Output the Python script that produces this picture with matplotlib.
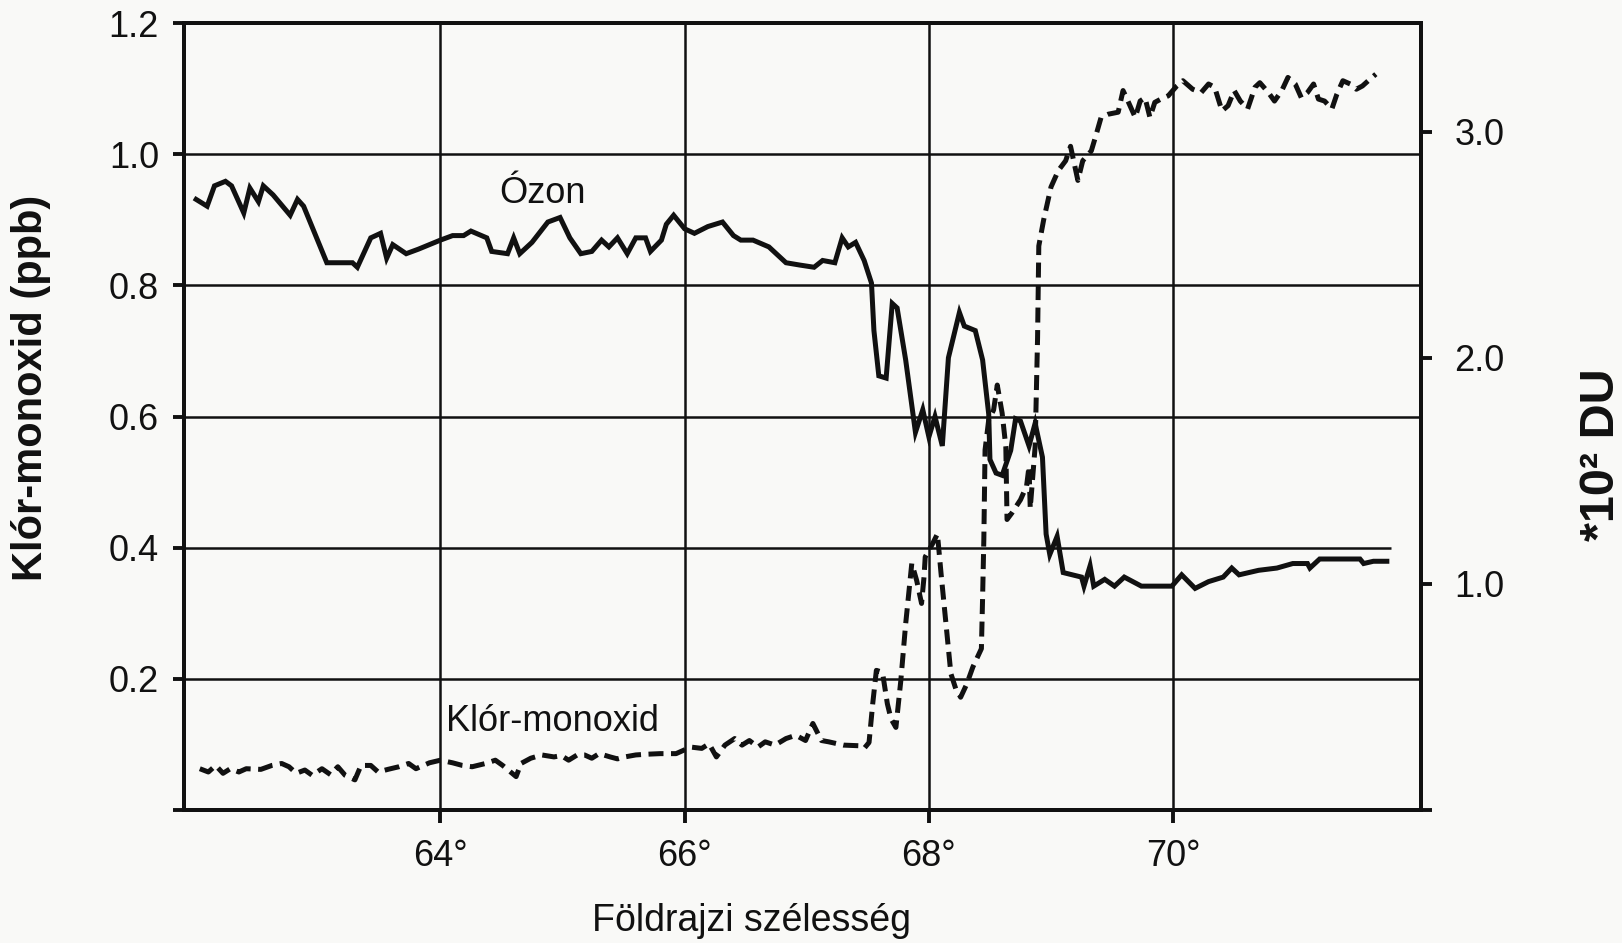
import matplotlib
matplotlib.use("Agg")
import matplotlib.pyplot as plt

# Latitude (degrees) and chlorine monoxide mixing ratio (ppb)
clo_lat = [62.03, 62.10, 62.16, 62.22, 62.28, 62.35, 62.41, 62.53, 62.62, 62.70,
           62.76, 62.82, 62.89, 62.95, 63.03, 63.10, 63.16, 63.22, 63.30, 63.35,
           63.43, 63.49, 63.57, 63.66, 63.74, 63.80, 63.91, 64.00, 64.10, 64.18,
           64.26, 64.37, 64.45, 64.51, 64.62, 64.66, 64.74, 64.83, 64.93, 64.99,
           65.05, 65.12, 65.18, 65.24, 65.30, 65.39, 65.45, 65.51, 65.60, 65.68,
           65.80, 65.93, 66.05, 66.14, 66.20, 66.26, 66.33, 66.41, 66.47, 66.53,
           66.60, 66.66, 66.74, 66.83, 66.91, 66.99, 67.05, 67.12, 67.18, 67.30,
           67.43, 67.47, 67.51, 67.54, 67.57, 67.62, 67.66, 67.69, 67.73, 67.77,
           67.81, 67.86, 67.90, 67.94, 67.96, 67.97, 68.03, 68.07, 68.10, 68.14,
           68.18, 68.22, 68.26, 68.31, 68.36, 68.43, 68.44, 68.45, 68.46, 68.49,
           68.53, 68.56, 68.60, 68.63, 68.64, 68.68, 68.75, 68.80, 68.82, 68.83,
           68.87, 68.89, 68.90, 68.94, 69.00, 69.06, 69.12, 69.16, 69.22, 69.26,
           69.33, 69.37, 69.41, 69.47, 69.55, 69.59, 69.63, 69.69, 69.73, 69.77,
           69.81, 69.85, 69.90, 69.96, 70.03, 70.08, 70.16, 70.23, 70.29, 70.34,
           70.40, 70.45, 70.50, 70.55, 70.61, 70.67, 70.71, 70.78, 70.83, 70.89,
           70.94, 71.00, 71.05, 71.10, 71.15, 71.19, 71.24, 71.30, 71.34, 71.39,
           71.45, 71.50, 71.55, 71.61, 71.66]
clo_ppb = [0.063, 0.058, 0.068, 0.056, 0.063, 0.058, 0.063, 0.062, 0.068, 0.071,
           0.066, 0.056, 0.061, 0.053, 0.063, 0.054, 0.066, 0.053, 0.046, 0.068,
           0.068, 0.058, 0.062, 0.066, 0.071, 0.063, 0.072, 0.076, 0.072, 0.068,
           0.066, 0.071, 0.076, 0.068, 0.051, 0.071, 0.079, 0.084, 0.081, 0.083,
           0.076, 0.084, 0.084, 0.079, 0.086, 0.081, 0.078, 0.081, 0.084, 0.085,
           0.086, 0.086, 0.096, 0.094, 0.101, 0.081, 0.099, 0.109, 0.099, 0.106,
           0.096, 0.104, 0.099, 0.109, 0.114, 0.106, 0.132, 0.106, 0.104, 0.099,
           0.098, 0.094, 0.103, 0.162, 0.213, 0.210, 0.162, 0.139, 0.126, 0.197,
           0.284, 0.376, 0.350, 0.315, 0.355, 0.386, 0.406, 0.421, 0.360, 0.284,
           0.208, 0.185, 0.172, 0.192, 0.218, 0.246, 0.325, 0.413, 0.549, 0.595,
           0.610, 0.648, 0.605, 0.554, 0.443, 0.453, 0.473, 0.494, 0.524, 0.460,
           0.554, 0.720, 0.860, 0.900, 0.950, 0.975, 0.990, 1.012, 0.960, 0.990,
           1.005, 1.030, 1.056, 1.061, 1.064, 1.097, 1.081, 1.056, 1.081, 1.086,
           1.056, 1.079, 1.084, 1.089, 1.104, 1.112, 1.099, 1.094, 1.107, 1.102,
           1.066, 1.074, 1.097, 1.081, 1.069, 1.102, 1.109, 1.094, 1.081, 1.097,
           1.117, 1.107, 1.086, 1.094, 1.107, 1.084, 1.081, 1.069, 1.091, 1.112,
           1.107, 1.099, 1.104, 1.114, 1.122]

# Latitude (degrees) and ozone column (x 10^2 DU)
o3_lat = [62.00, 62.09, 62.15, 62.24, 62.29, 62.39, 62.44, 62.51, 62.55, 62.63,
          62.77, 62.83, 62.88, 63.07, 63.28, 63.32, 63.43, 63.51, 63.56, 63.61,
          63.72, 63.82, 64.00, 64.10, 64.19, 64.25, 64.38, 64.42, 64.55, 64.60,
          64.65, 64.75, 64.88, 64.98, 65.06, 65.15, 65.24, 65.32, 65.38, 65.45,
          65.53, 65.60, 65.68, 65.72, 65.81, 65.85, 65.91, 66.00, 66.08, 66.19,
          66.31, 66.40, 66.46, 66.56, 66.69, 66.83, 66.94, 67.06, 67.13, 67.23,
          67.29, 67.34, 67.40, 67.47, 67.53, 67.55, 67.59, 67.65, 67.70, 67.74,
          67.81, 67.89, 67.95, 68.00, 68.05, 68.11, 68.16, 68.25, 68.29, 68.38,
          68.44, 68.49, 68.50, 68.55, 68.60, 68.67, 68.71, 68.75, 68.82, 68.87,
          68.93, 68.96, 68.99, 69.05, 69.10, 69.25, 69.27, 69.32, 69.35, 69.44,
          69.52, 69.60, 69.74, 69.99, 70.07, 70.18, 70.29, 70.41, 70.48, 70.54,
          70.70, 70.85, 70.98, 71.10, 71.12, 71.20, 71.53, 71.56, 71.64, 71.75]
o3_du = [2.70, 2.67, 2.76, 2.78, 2.76, 2.64, 2.75, 2.69, 2.76, 2.72,
         2.63, 2.70, 2.67, 2.42, 2.42, 2.40, 2.53, 2.55, 2.44, 2.50,
         2.46, 2.48, 2.52, 2.54, 2.54, 2.56, 2.53, 2.47, 2.46, 2.53,
         2.46, 2.51, 2.60, 2.62, 2.53, 2.46, 2.47, 2.52, 2.49, 2.53,
         2.46, 2.53, 2.53, 2.47, 2.52, 2.59, 2.63, 2.57, 2.55, 2.58,
         2.60, 2.54, 2.52, 2.52, 2.49, 2.42, 2.41, 2.40, 2.43, 2.42,
         2.53, 2.49, 2.51, 2.43, 2.33, 2.12, 1.92, 1.91, 2.24, 2.22,
         1.99, 1.67, 1.77, 1.65, 1.74, 1.61, 2.00, 2.20, 2.14, 2.12,
         1.99, 1.75, 1.55, 1.49, 1.48, 1.59, 1.73, 1.72, 1.61, 1.71,
         1.56, 1.22, 1.13, 1.21, 1.05, 1.03, 0.99, 1.08, 0.99, 1.02,
         0.99, 1.03, 0.99, 0.99, 1.04, 0.98, 1.01, 1.03, 1.07, 1.04,
         1.06, 1.07, 1.09, 1.09, 1.07, 1.11, 1.11, 1.09, 1.10, 1.10]

left_ticks = [0.0, 0.2, 0.4, 0.6, 0.8, 1.0, 1.2]
left_labels = ["", "0.2", "0.4", "0.6", "0.8", "1.0", "1.2"]
right_ticks = [0.0, 1.0, 2.0, 3.0]
right_labels = ["", "1.0", "2.0", "3.0"]
lat_ticks = [64, 66, 68, 70]
lat_labels = ["64°", "66°", "68°", "70°"]
hgrid_levels = [0.2, 0.4, 0.6, 0.8, 1.0]
hgrid_ends = [72.03, 71.78, 72.03, 72.03, 72.03]

plt.rcParams["font.family"] = ["Liberation Sans", "DejaVu Sans"]
paper = "#f9f9f7"
ink = "#111111"

fig = plt.figure(figsize=(16.22, 9.43), dpi=100, facecolor=paper)
ax = fig.add_axes([0.1134, 0.141, 0.7627, 0.8346], facecolor=paper)
ax2 = ax.twinx()

xmin, xmax = 61.9, 72.03
ax.set_xlim(xmin, xmax)
ax.set_ylim(0, 1.2)
ax2.set_ylim(0, 3.48)

# grid
for lvl, end in zip(hgrid_levels, hgrid_ends):
    ax.hlines(lvl, xmin, end, color=ink, lw=1.8, zorder=1)
for lat in lat_ticks:
    ax.axvline(lat, color=ink, lw=1.8, zorder=1)

# series
ax.plot(clo_lat, clo_ppb, color=ink, lw=3.6, linestyle=(0, (3.0, 1.5)),
        solid_joinstyle="miter", zorder=3)
ax2.plot(o3_lat, o3_du, color=ink, lw=3.6, solid_joinstyle="miter", zorder=3)

ax.text(64.84, 0.94, "Ózon", fontsize=26, color=ink, ha="center", va="center")
ax.text(64.92, 0.135, "Klór-monoxid", fontsize=26, color=ink, ha="center", va="center")

# axes styling
for a in (ax, ax2):
    for s in a.spines.values():
        s.set_linewidth(2.8)
        s.set_color(ink)

ax.set_yticks(left_ticks)
ax.set_yticklabels(left_labels)
ax.set_xticks(lat_ticks)
ax.set_xticklabels(lat_labels)
ax2.set_yticks(right_ticks)
ax2.set_yticklabels(right_labels)

ax.tick_params(axis="y", direction="out", length=8, width=2.8, pad=10,
               labelsize=26, colors=ink)
ax.tick_params(axis="x", direction="out", length=9, width=2.8, pad=12,
               labelsize=26, colors=ink)
ax2.tick_params(axis="y", direction="out", length=8, width=2.8, pad=16,
                labelsize=26, colors=ink)

fig.text(31 / 1622, 1 - 388 / 943, "Klór-monoxid (ppb)", rotation=90,
         fontsize=30, fontweight="bold", color=ink, ha="center", va="center")
fig.text(1601 / 1622, 1 - 455 / 943, "*10² DU", rotation=90,
         fontsize=35, fontweight="bold", color=ink, ha="center", va="center")
fig.text(752 / 1622, 1 - 921 / 943, "Földrajzi szélesség",
         fontsize=27, color=ink, ha="center", va="center")

fig.savefig("out.png", dpi=100, facecolor=paper)
